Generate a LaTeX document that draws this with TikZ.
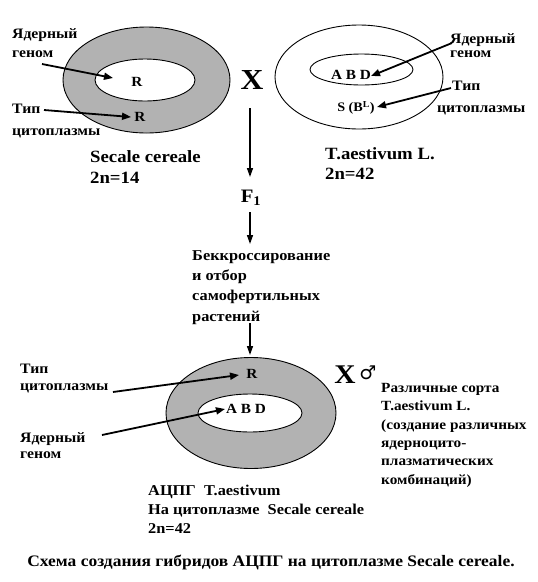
\documentclass[tikz,border=0pt]{standalone}
\usepackage{fontspec}
\setmainfont{Liberation Serif}[FakeStretch=1.09]
\newfontfamily\symfont{DejaVu Sans}
\usetikzlibrary{arrows.meta}
\tikzset{
  lbl/.style={inner sep=0pt, anchor=base west, font=\fontsize{14.4}{18}\selectfont\bfseries},
  inlbl/.style={inner sep=0pt, font=\fontsize{14}{18}\selectfont\bfseries},
  big/.style={inner sep=0pt, anchor=base west, font=\fontsize{17.2}{21}\selectfont\bfseries},
  ptr/.style={line width=1.8pt, -{Triangle[length=9pt,width=7pt]}},
  vdown/.style={line width=1.4pt, -{Triangle[length=9pt,width=6pt]}},
  ring/.style={draw=black, line width=0.9pt, fill=gray!60},
  hole/.style={draw=black, line width=0.9pt, fill=white},
}
\begin{document}
\begin{tikzpicture}[x=1pt,y=-1pt]
\useasboundingbox (0,0) rectangle (538,582);
\fill[white] (0,0) rectangle (538,582);

% ---- top-left: Secale cereale
\draw[ring] (146.5,80) ellipse [x radius=83.5, y radius=53];
\draw[hole] (145,80) ellipse [x radius=50, y radius=21];
\node[inlbl] (r1) at (137,82) {R};
\node[inlbl] (r2) at (140,117) {R};
\node[lbl] (tl1) at (12,38) {Ядерный};
\node[lbl] (tl2) at (12,57) {геном};
\node[lbl] (tl3) at (12,113) {Тип};
\node[lbl] (tl4) at (12,135) {цитоплазмы};
\coordinate (a1s) at (42,64); \coordinate (a1e) at (113,78);
\coordinate (a2s) at (44,110); \coordinate (a2e) at (131,117);
\draw[ptr] (a1s) -- (a1e);
\draw[ptr] (a2s) -- (a2e);
\node[big] (sc) at (90,162) {Secale cereale};
\node[big] (sc2) at (90,183) {2n=14};

% ---- top-right: T. aestivum
\draw[hole] (359,77) ellipse [x radius=84, y radius=52];
\draw[hole] (361.5,69.5) ellipse [x radius=51.5, y radius=15.5];
\node[inlbl] (abd1) at (351,75) {A B D};
\node[inlbl, font=\fontsize{13}{18}\selectfont\bfseries] (sbl) at (356,108) {S (B\textsuperscript{L})};
\node[lbl] (tr1) at (450,43) {Ядерный};
\node[lbl] (tr2) at (450,57) {геном};
\node[lbl] (tr3) at (452,90) {Тип};
\node[lbl] (tr4) at (437,112) {цитоплазмы};
\coordinate (a3s) at (452,43); \coordinate (a3e) at (371,76);
\coordinate (a4s) at (451,88); \coordinate (a4e) at (377,107);
\draw[ptr] (a3s) -- (a3e);
\draw[ptr] (a4s) -- (a4e);
\node[big] (ta) at (325,159) {T.aestivum L.};
\node[big] (ta2) at (325,179) {2n=42};

% ---- cross and flow
\node[inner sep=0pt, font=\fontsize{29}{29}\selectfont\bfseries] (x1) at (252,80) {X};
\coordinate (v1s) at (250,108); \coordinate (v1e) at (250,177);
\draw[vdown] (v1s) -- (v1e);
\node[inner sep=0pt, font=\fontsize{19}{19}\selectfont\bfseries] (f1) at (251,198) {F\textsubscript{1}};
\coordinate (v2s) at (250,212); \coordinate (v2e) at (250,244);
\draw[vdown] (v2s) -- (v2e);
\node[inner sep=0pt, anchor=north west, align=left, font=\fontsize{15}{20.4}\selectfont\bfseries] (bc) at (192,250)
  {Беккроссирование\\и отбор\\самофертильных\\растений};
\coordinate (v3s) at (250,323); \coordinate (v3e) at (250,355);
\draw[vdown] (v3s) -- (v3e);

% ---- bottom: ACPG
\draw[ring] (251,413) ellipse [x radius=85, y radius=55.5];
\draw[hole] (250,413) ellipse [x radius=52, y radius=19];
\node[inlbl] (r3) at (252,374) {R};
\node[inlbl] (abd2) at (246,409) {A B D};
\node[lbl] (bl1) at (20,373) {Тип};
\node[lbl] (bl2) at (20,390) {цитоплазмы};
\node[lbl] (bl3) at (20,442) {Ядерный};
\node[lbl] (bl4) at (20,458) {геном};
\coordinate (a5s) at (113,392); \coordinate (a5e) at (239,375);
\coordinate (a6s) at (102,435); \coordinate (a6e) at (225,409);
\draw[ptr] (a5s) -- (a5e);
\draw[ptr] (a6s) -- (a6e);
\node[inner sep=0pt, font=\fontsize{27}{27}\selectfont\bfseries] (x2) at (345,375) {X};
\node[inner sep=0pt, font=\fontsize{19}{19}\selectfont\symfont] (male) at (368,373) {♂};
\node[inner sep=0pt, anchor=north west, align=left, font=\fontsize{14}{18.4}\selectfont\bfseries] (var) at (381,383)
  {Различные сорта\\T.aestivum L.\\(создание различных\\ядерноцито-\\плазматических\\комбинаций)};
\node[inner sep=0pt, anchor=north west, align=left, font=\fontsize{15}{18.8}\selectfont\bfseries] (res) at (148,485)
  {АЦПГ\ \ T.aestivum\\На цитоплазме\ \ Secale cereale\\2n=42};
\node[inner sep=0pt, anchor=base, font=\fontsize{16}{16}\selectfont\bfseries] (cap) at (271,566)
  {Схема создания гибридов АЦПГ на цитоплазме Secale cereale.};
\end{tikzpicture}
\end{document}
